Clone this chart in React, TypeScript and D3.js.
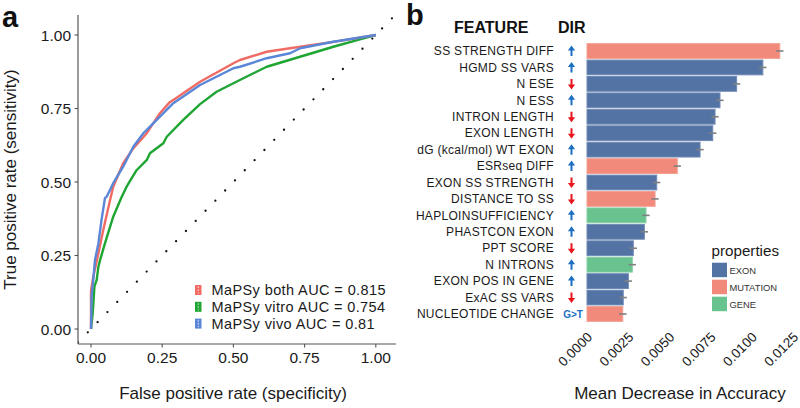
import React from "react";
import * as d3 from "d3";

// ---------- Panel a data (ROC curves) ----------
const bothFpr = [0, 0, 0.008, 0.026, 0.043, 0.067, 0.078, 0.113, 0.149, 0.196, 0.242, 0.275, 0.289, 0.383, 0.5, 0.523, 0.617, 0.699, 0.874, 1];
const bothTpr = [0, 0.13, 0.178, 0.257, 0.337, 0.439, 0.484, 0.564, 0.615, 0.666, 0.734, 0.77, 0.779, 0.841, 0.904, 0.915, 0.943, 0.955, 0.98, 1];
const vitroFpr = [0, 0.006, 0.012, 0.02, 0.026, 0.032, 0.049, 0.078, 0.108, 0.125, 0.16, 0.196, 0.207, 0.254, 0.266, 0.324, 0.383, 0.441, 0.5, 0.558, 0.617, 0.734, 0.851, 0.944, 1];
const vitroTpr = [0, 0.053, 0.144, 0.167, 0.212, 0.235, 0.291, 0.382, 0.45, 0.484, 0.54, 0.575, 0.598, 0.632, 0.654, 0.711, 0.765, 0.807, 0.836, 0.864, 0.892, 0.926, 0.96, 0.985, 1];
const vivoFpr = [0, 0.002, 0.008, 0.014, 0.026, 0.037, 0.049, 0.055, 0.078, 0.113, 0.149, 0.184, 0.196, 0.289, 0.383, 0.5, 0.523, 0.617, 0.699, 0.734, 0.851, 1];
const vivoTpr = [0, 0.11, 0.167, 0.235, 0.291, 0.371, 0.445, 0.45, 0.496, 0.552, 0.621, 0.666, 0.677, 0.768, 0.83, 0.887, 0.892, 0.921, 0.938, 0.955, 0.977, 1];
const rocNames = ["MaPSy both AUC = 0.815", "MaPSy vitro AUC = 0.754", "MaPSy vivo AUC = 0.81"];
const rocColors = ["#ef6b63", "#1ea532", "#5a86d8"];
const rocTicks = [0, 0.25, 0.5, 0.75, 1];

// ---------- Panel b data (feature importance) ----------
const features = [
  "SS STRENGTH DIFF", "HGMD SS VARS", "N ESE", "N ESS", "INTRON LENGTH", "EXON LENGTH",
  "dG (kcal/mol) WT EXON", "ESRseq DIFF", "EXON SS STRENGTH", "DISTANCE TO SS",
  "HAPLOINSUFFICIENCY", "PHASTCON EXON", "PPT SCORE", "N INTRONS", "EXON POS IN GENE",
  "ExAC SS VARS", "NUCLEOTIDE CHANGE",
];
const importance = [0.0117, 0.01067, 0.00908, 0.00807, 0.00777, 0.00763, 0.00686, 0.00548, 0.00423, 0.00413, 0.00358, 0.00348, 0.00281, 0.00275, 0.00251, 0.0022, 0.00217];
const importanceErr = [0.00022, 0.00022, 0.00022, 0.00022, 0.00022, 0.00022, 0.00022, 0.00022, 0.00022, 0.00022, 0.00022, 0.00022, 0.00022, 0.00022, 0.00022, 0.00022, 0.00023];
const properties = ["MUTATION", "EXON", "EXON", "EXON", "EXON", "EXON", "EXON", "MUTATION", "EXON", "MUTATION", "GENE", "EXON", "EXON", "GENE", "EXON", "EXON", "MUTATION"];
const directions = ["up", "up", "down", "up", "down", "down", "up", "up", "down", "down", "up", "up", "down", "up", "up", "down", "G>T"];
const propLevels = ["EXON", "MUTATION", "GENE"];
const propColors = ["#5473a5", "#f28a7b", "#68c38e"];
const impTicks = [0, 0.0025, 0.005, 0.0075, 0.01, 0.0125];

const FONT = "'Liberation Sans', Arial, Helvetica, sans-serif";

export default function App() {
  // Panel a scales
  const px = d3.scaleLinear().domain([0, 1]).range([91, 375.8]);
  const py = d3.scaleLinear().domain([0, 1]).range([329, 35]);
  const pL = 78, pR = 396, pT = 15, pB = 344;
  const xMin = px.invert(pL), xMax = px.invert(pR);
  const yMin = py.invert(pB), yMax = py.invert(pT);
  const dStart = Math.max(xMin, yMin);
  const dEnd = Math.min(xMax, yMax);

  const series = [
    bothFpr.map((f, i) => [f, bothTpr[i]] as [number, number]),
    vitroFpr.map((f, i) => [f, vitroTpr[i]] as [number, number]),
    vivoFpr.map((f, i) => [f, vivoTpr[i]] as [number, number]),
  ];
  const line = d3.line<[number, number]>().x((d) => px(d[0])).y((d) => py(d[1]));
  const drawOrder = [1, 0, 2];

  // Panel b scales
  const by = d3.scaleBand<string>().domain(features).range([42.8, 322.2]).paddingInner(0.1).paddingOuter(0.05);
  const bx = d3.scaleLinear().domain([0, 0.0125]).range([587, 793]);
  const colorOf = d3.scaleOrdinal<string, string>().domain(propLevels).range(propColors);
  const strokeOf = d3.scaleOrdinal<string, string>().domain(propLevels).range(["#6f8ab6", "#f4a092", "#84cfa3"]);

  const arrow = (cx: number, cy: number, up: boolean) => {
    const s = up ? -1 : 1;
    const tip = cy + s * 5.5;
    const base = cy + s * 0.5;
    return `M${cx},${tip} L${cx - 3.6},${base} L${cx + 3.6},${base} Z M${cx - 1},${base} L${cx + 1},${base} L${cx + 1},${cy - s * 5} L${cx - 1},${cy - s * 5} Z`;
  };

  return (
    <div style={{ position: "absolute", left: 0, top: 0 }}>
      <svg width={800} height={408} style={{ display: "block", background: "#fff", fontFamily: FONT }}>
        <defs>
          <clipPath id="clipA">
            <rect x={pL} y={pT} width={pR - pL} height={pB - pT} />
          </clipPath>
        </defs>

        {/* ---------------- Panel a ---------------- */}
        <text x={2} y={27} fontSize={29} fontWeight="bold" fill="#111">a</text>

        <g clipPath="url(#clipA)">
          <line
            x1={px(dStart)} y1={py(dStart)} x2={px(dEnd)} y2={py(dEnd)}
            stroke="#111" strokeWidth={2.3} strokeDasharray="0 14.1" strokeLinecap="round"
          />
          {drawOrder.map((k) => (
            <path key={k} d={line(series[k]) || ""} fill="none" stroke={rocColors[k]} strokeWidth={2.4} strokeLinejoin="round" />
          ))}
        </g>

        {/* axes */}
        <line x1={pL} y1={pT} x2={pL} y2={pB} stroke="#555" strokeWidth={1.2} />
        <line x1={pL} y1={pB} x2={pR} y2={pB} stroke="#555" strokeWidth={1.2} />
        {rocTicks.map((t) => (
          <g key={"y" + t}>
            <line x1={pL - 3.5} x2={pL} y1={py(t)} y2={py(t)} stroke="#555" strokeWidth={1.1} />
            <text x={71} y={py(t) + 5.5} textAnchor="end" fontSize={15.5} fill="#1a1a1a">{t.toFixed(2)}</text>
          </g>
        ))}
        {rocTicks.map((t) => (
          <g key={"x" + t}>
            <line x1={px(t)} x2={px(t)} y1={pB} y2={pB + 3.5} stroke="#555" strokeWidth={1.1} />
            <text x={px(t)} y={363} textAnchor="middle" fontSize={15.5} fill="#1a1a1a">{t.toFixed(2)}</text>
          </g>
        ))}
        <text x={233} y={399} textAnchor="middle" fontSize={17} fill="#1a1a1a">False positive rate (specificity)</text>
        <text transform={`translate(16,${(pT + pB) / 2}) rotate(-90)`} textAnchor="middle" fontSize={17} fill="#1a1a1a">
          True positive rate (sensitivity)
        </text>

        {/* legend a */}
        {rocNames.map((n, i) => {
          const cy = 290 + i * 16.8;
          return (
            <g key={n}>
              <rect x={195} y={cy - 5} width={6.5} height={10} fill={rocColors[i]} />
              <line x1={198.25} x2={198.25} y1={cy - 3.5} y2={cy + 3.5} stroke="#fff" strokeWidth={1} strokeDasharray="1.5 1.5" opacity={0.85} />
              <text x={211.5} y={cy + 5} fontSize={14.5} letterSpacing={0.4} fill="#1a1a1a">{n}</text>
            </g>
          );
        })}

        {/* ---------------- Panel b ---------------- */}
        <text x={406} y={25} fontSize={29} fontWeight="bold" fill="#111">b</text>
        <text x={454} y={33} fontSize={16} fontWeight="bold" fill="#111">FEATURE</text>
        <text x={558} y={33} fontSize={16} fontWeight="bold" fill="#111">DIR</text>

        {features.map((f, i) => {
          const y0 = by(f) as number;
          const h = by.bandwidth();
          const cy = y0 + h / 2;
          const dir = directions[i];
          return (
            <g key={f}>
              <text x={554} y={cy + 4.2} textAnchor="end" fontSize={12} letterSpacing={0.3} fill="#1a1a1a">{f}</text>
              {dir === "up" && <path d={arrow(571.5, cy, true)} fill="#1d6fc2" />}
              {dir === "down" && <path d={arrow(571.5, cy, false)} fill="#e8151d" />}
              {dir !== "up" && dir !== "down" && (
                <text x={573} y={cy + 3.6} textAnchor="middle" fontSize={10} fontWeight="bold" fill="#1d6fc2">{dir}</text>
              )}
              <rect
                x={bx(0)} y={y0} width={bx(importance[i]) - bx(0)} height={h}
                fill={colorOf(properties[i])} stroke={strokeOf(properties[i])} strokeWidth={1}
              />
              <line
                x1={bx(importance[i] - importanceErr[i])} x2={bx(importance[i] + importanceErr[i])}
                y1={cy} y2={cy} stroke="#808080" strokeWidth={1.6}
              />
            </g>
          );
        })}

        {impTicks.map((t) => (
          <text key={t} transform={`translate(${bx(t) + 6},${338}) rotate(-45)`} textAnchor="end" fontSize={13.5} fill="#1a1a1a">
            {t.toFixed(4)}
          </text>
        ))}
        <text x={680} y={399} textAnchor="middle" fontSize={17} fill="#1a1a1a">Mean Decrease in Accuracy</text>

        {/* legend b */}
        <text x={711.5} y={256} fontSize={15.2} fill="#1a1a1a">properties</text>
        {propLevels.map((p, i) => {
          const y0 = 262.7 + i * 17;
          return (
            <g key={p}>
              <rect x={712} y={y0} width={15} height={14.5} fill={propColors[i]} />
              <text x={729.5} y={y0 + 10.8} fontSize={9.4} fill="#333">{p}</text>
            </g>
          );
        })}
      </svg>
    </div>
  );
}
